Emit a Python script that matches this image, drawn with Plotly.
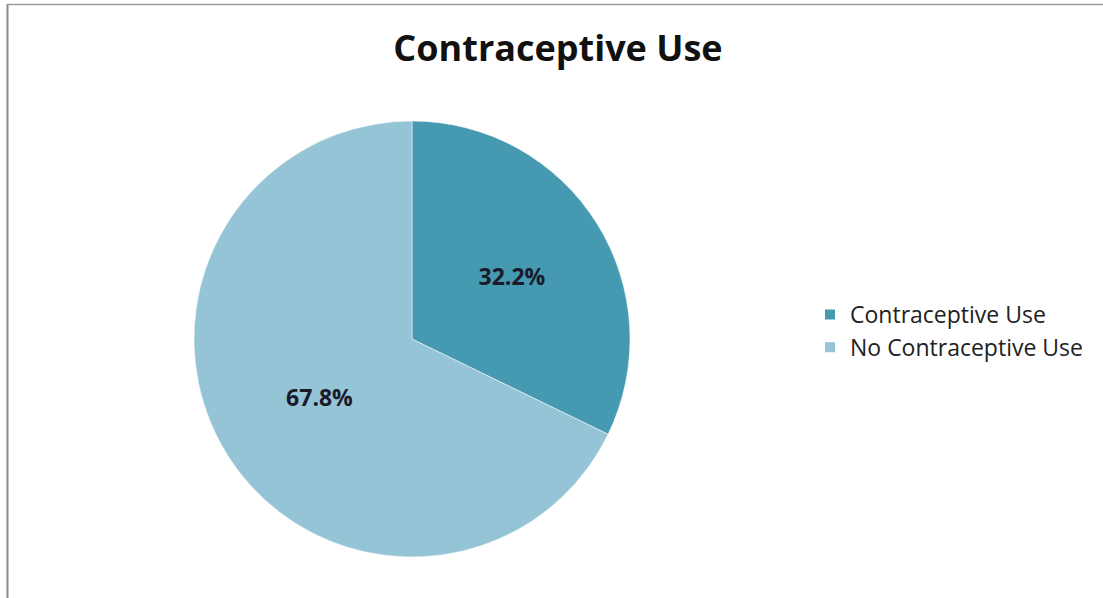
import plotly.graph_objects as go

categories = ["Contraceptive Use", "No Contraceptive Use"]
values = [32.2, 67.8]
colors = ["#4599B1", "#94C4D6"]

W, H = 1103, 598
cx, cy, r = 412, 339, 218

fig = go.Figure(go.Pie(
    labels=categories,
    values=values,
    sort=False,
    direction="clockwise",
    rotation=0,
    marker=dict(colors=colors, line=dict(color="#FFFFFF", width=0.5)),
    texttemplate="%{percent:.1%}",
    textposition="inside",
    insidetextorientation="horizontal",
    textfont=dict(family="Open Sans", size=23, color="#1A1A2A", weight="bold"),
    hoverinfo="label+percent",
    domain=dict(x=[(cx - r) / W, (cx + r) / W], y=[(H - cy - r) / H, (H - cy + r) / H]),
))

fig.update_layout(
    width=W, height=H,
    margin=dict(l=0, r=0, t=0, b=0),
    paper_bgcolor="white",
    plot_bgcolor="white",
    title=dict(text="<b>Contraceptive Use</b>", x=558 / W, xanchor="center",
               y=1 - 48 / H, yanchor="middle",
               font=dict(family="Open Sans", size=36, color="#111111")),
    legend=dict(x=810 / W, xanchor="left", y=1 - 331 / H, yanchor="middle",
                font=dict(family="Open Sans", size=23, color="#222222"),
                itemsizing="constant", tracegroupgap=0),
    shapes=[
        dict(type="line", xref="paper", yref="paper", x0=7.5 / W, x1=7.5 / W, y0=0, y1=1 - 4 / H,
             line=dict(color="#8A8A8A", width=2)),
        dict(type="line", xref="paper", yref="paper", x0=7 / W, x1=1, y0=1 - 4.5 / H, y1=1 - 4.5 / H,
             line=dict(color="#9A9A9A", width=1.5)),
    ],
)

fig.write_html("out.html", config={"displayModeBar": False},
               post_script="document.body.style.margin='0';document.body.style.overflow='hidden';")
